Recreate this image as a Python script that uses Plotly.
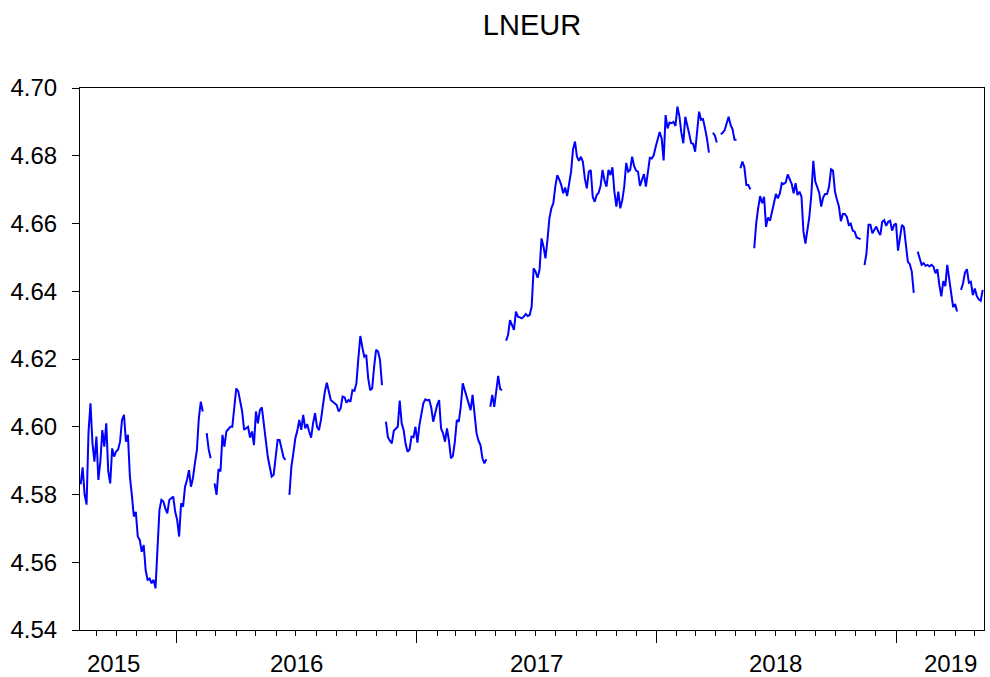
import pandas as pd
import plotly.graph_objects as go

# ---- data, one value every 3 calendar days from 2015-08-08 ----
start_date = "2015-08-08"
step = "3D"
vals_a = [4.583, 4.588, 4.580, 4.577, 4.5985, 4.6069, 4.5951, 4.5897, 4.5971, 4.5843,
          4.5897, 4.5990, 4.5941, 4.6010, 4.5870, 4.5833, 4.5936, 4.5912, 4.5927, 4.5932,
          4.5956, 4.6020, 4.6035, 4.5956, 4.5976, 4.5853, 4.5798, 4.5735, 4.5749, 4.5676,
          4.5666, 4.5631, 4.5651, 4.5577, 4.5548, 4.5552, 4.5538, 4.5548, 4.5523, 4.5620,
          4.5754, 4.5784, 4.5779, 4.5759, 4.5744, 4.5784, 4.5789, 4.5794, 4.5749, 4.5725,
          4.5676, 4.5774, 4.5764, 4.5823, 4.5843, 4.5872, 4.5823, 4.5848, 4.5892, 4.5930]
vals_b = [4.6025, 4.6074, 4.6045, None, 4.5981, 4.5933, 4.5907, None, 4.5833, 4.5799,
          4.5875, 4.5868, 4.5976, 4.5941, 4.5986, 4.5995, 4.6000, 4.6000, 4.6054, 4.6113,
          4.6105, 4.6074, 4.6045, 4.5991, 4.5995, 4.6000, 4.5968, 4.5986, 4.5946, 4.6045,
          4.6010, 4.6049, 4.6057, 4.6005, 4.5961, 4.5912, 4.5882, 4.5853, 4.5858, 4.5902,
          4.5961, 4.5961, 4.5931, 4.5910, 4.5902, None, 4.5799, 4.5882, 4.5922, 4.5966,
          4.5988, 4.6020, 4.5991, 4.6035, 4.5995, 4.6008, 4.5986, 4.5968, 4.6010, 4.6040,
          4.6000, 4.5990]
vals_c = [4.6020, 4.6069, 4.6104, 4.6130, 4.6101, 4.6079, 4.6074, 4.6069, 4.6064, 4.6045,
          4.6054, 4.6089, 4.6087, 4.6071, 4.6079, 4.6074, 4.6108, 4.6106, 4.6128, 4.6202,
          4.6268, 4.6236, 4.6207, 4.6212, 4.6143, 4.6108, 4.6113, 4.6177, 4.6227, 4.6222,
          4.6197, 4.6123, None, 4.6015, 4.5969, 4.5959, 4.5951, 4.5988, 4.5995, 4.6000,
          4.6077, 4.6010, 4.5990, 4.5949, 4.5926, 4.5933, 4.5971, 4.5969, 4.6000, 4.5953,
          4.6005, 4.6035, 4.6069, 4.6081, 4.6078, 4.6079]
vals_d = [4.6057, 4.6015, 4.6045, 4.6064, 4.6079, 4.5995, 4.5981, 4.5956, 4.5995, 4.5959,
          4.5907, 4.5914, 4.5956, 4.6020, 4.6015, 4.6059, 4.6128, 4.6108, 4.6089, 4.6074,
          4.6049, 4.6094, 4.6040, 4.5981, 4.5959, 4.5946, 4.5907, 4.5892, 4.5904, None,
          4.6059, 4.6094, 4.6059, 4.6099, 4.6150, 4.6111, 4.6108, None, 4.6254, 4.6271,
          4.6315, 4.6297, 4.6286, 4.6340, 4.6325, 4.6323, 4.6320, 4.6325, 4.6333, 4.6327,
          4.6330, 4.6355, 4.6468, 4.6458, 4.6440, 4.6463, 4.6556, 4.6532, 4.6497]
vals_e = [4.6550, 4.6615, 4.6645, 4.6660, 4.6709, 4.6743, 4.6730, 4.6714, 4.6689, 4.6706,
          4.6681, 4.6724, 4.6753, 4.6819, 4.6842, 4.6797, 4.6785, 4.6797, 4.6782, 4.6733,
          4.6704, 4.6753, 4.6758, 4.6679, 4.6664, 4.6684, 4.6691, 4.6711, 4.6758, 4.6726,
          4.6709, 4.6758, 4.6743, 4.6766, 4.6694, 4.6650, 4.6694, 4.6645, 4.6669, 4.6709,
          4.6779, 4.6753, 4.6758, 4.6797, 4.6770, 4.6756, 4.6753, 4.6711, 4.6730, 4.6746,
          4.6709, 4.6758, 4.6794, 4.6792, 4.6802, 4.6827, 4.6850, 4.6870]
vals_f = [4.6851, 4.6786, 4.6920, 4.6881, 4.6898, 4.6896, 4.6900, 4.6888, 4.6945, 4.6917,
          4.6868, 4.6837, 4.6915, 4.6884, 4.6864, 4.6837, 4.6835, 4.6812, 4.6871, 4.6930,
          4.6906, 4.6908, 4.6881, 4.6851, 4.6809, None, 4.6868, 4.6860, 4.6839, None,
          4.6864, 4.6868, 4.6876, 4.6898, 4.6915, 4.6891, 4.6878, 4.6847, 4.6847, None,
          4.6763, 4.6783, 4.6766, 4.6714, 4.6714, 4.6701, None, 4.6527, 4.6600, 4.6645,
          4.6681, 4.6660, 4.6679, 4.6590, 4.6618, 4.6608, 4.6640, 4.6660]
vals_g = [4.6687, 4.6674, 4.6689, 4.6719, 4.6717, 4.6721, 4.6745, 4.6733, 4.6717, 4.6689,
          4.6719, 4.6684, 4.6694, 4.6679, 4.6576, 4.6541, 4.6583, 4.6620, 4.6686, 4.6785,
          4.6724, 4.6709, 4.6691, 4.6650, 4.6677, 4.6687, 4.6687, 4.6709, 4.6760, 4.6756,
          4.6694, 4.6671, 4.6650, 4.6607, 4.6628, 4.6628, 4.6620, 4.6596, 4.6600, 4.6579,
          4.6576, 4.6559, 4.6556, 4.6554, None, 4.6477, 4.6512, 4.6596, 4.6596, 4.6571,
          4.6581, 4.6591, 4.6576, 4.6566, 4.6605, 4.6610, 4.6593, 4.6605, 4.6608]
vals_h = [4.6579, 4.6596, 4.6600, 4.6520, 4.6566, 4.6596, 4.6589, 4.6527, 4.6487, 4.6480,
          4.6458, 4.6395, None, 4.6517, 4.6500, 4.6478, 4.6483, 4.6475, 4.6478, 4.6473,
          4.6478, 4.6473, 4.6453, 4.6465, 4.6418, 4.6385, 4.6430, 4.6415, 4.6478, 4.6433,
          4.6382, 4.6353, 4.6362, 4.6340, None, 4.6404, 4.6423, 4.6455, 4.6465, 4.6425,
          4.6428, 4.6389, 4.6408, 4.6386, 4.6376, 4.6372, 4.6404]

title_text = "LNEUR"
x_range = ["2015-08-07", "2019-05-15"]
y_range = [4.54, 4.70]
y_ticks = [4.54, 4.56, 4.58, 4.60, 4.62, 4.64, 4.66, 4.68, 4.70]
year_labels = [2015, 2016, 2017, 2018, 2019]

values = vals_a + vals_b + vals_c + vals_d + vals_e + vals_f + vals_g + vals_h
dates = pd.date_range(start_date, periods=len(values), freq=step)

FONT = "Liberation Sans, Arial, Helvetica, sans-serif"

fig = go.Figure()
fig.add_trace(go.Scatter(x=dates, y=values, mode="lines",
                         line=dict(color="#0000ff", width=2),
                         connectgaps=False, showlegend=False, hoverinfo="skip"))

# year labels centred in each year, kept inside the visible range
xr0, xr1 = pd.Timestamp(x_range[0]), pd.Timestamp(x_range[1])
annotations = []
for yr in year_labels:
    mid = pd.Timestamp(f"{yr}-07-02")
    if mid < xr0:
        ax_x, anchor, shift = xr0, "left", 5
    elif mid > xr1:
        ax_x, anchor, shift = xr1, "right", -5
    else:
        ax_x, anchor, shift = mid, "center", 0
    annotations.append(dict(x=ax_x, xref="x", y=0, yref="paper", text=str(yr),
                            showarrow=False, xanchor=anchor, yanchor="middle",
                            xshift=shift, yshift=-33,
                            font=dict(family=FONT, size=24, color="black")))

fig.update_layout(
    width=990, height=677,
    margin=dict(l=80, r=6, t=88, b=47, autoexpand=False),
    paper_bgcolor="white", plot_bgcolor="white",
    title=dict(text=title_text, x=0.5, xref="paper", xanchor="center",
               y=1 - 25 / 677, yref="container", yanchor="middle",
               font=dict(family=FONT, size=29, color="black")),
    xaxis=dict(type="date", range=x_range, tick0="2016-01-01", dtick="M12",
               showticklabels=False, ticks="outside", ticklen=12, tickwidth=1,
               tickcolor="black", showline=True, mirror=True, linecolor="black",
               linewidth=1, showgrid=False, zeroline=False, automargin=False,
               minor=dict(ticks="outside", ticklen=5, tickwidth=1, tickcolor="black",
                          dtick="M1", tick0="2016-01-01", showgrid=False)),
    yaxis=dict(range=y_range, tickmode="array", tickvals=y_ticks, tickformat=".2f",
               ticks="outside", ticklen=7, tickwidth=1, tickcolor="black",
               showline=True, mirror=True, linecolor="black", linewidth=1,
               showgrid=False, zeroline=False, ticklabelstandoff=10, automargin=False,
               tickfont=dict(family=FONT, size=24, color="black")),
    annotations=annotations,
)

fig.write_html("out.html", config={"displayModeBar": False},
               post_script="document.body.style.margin='0';")
